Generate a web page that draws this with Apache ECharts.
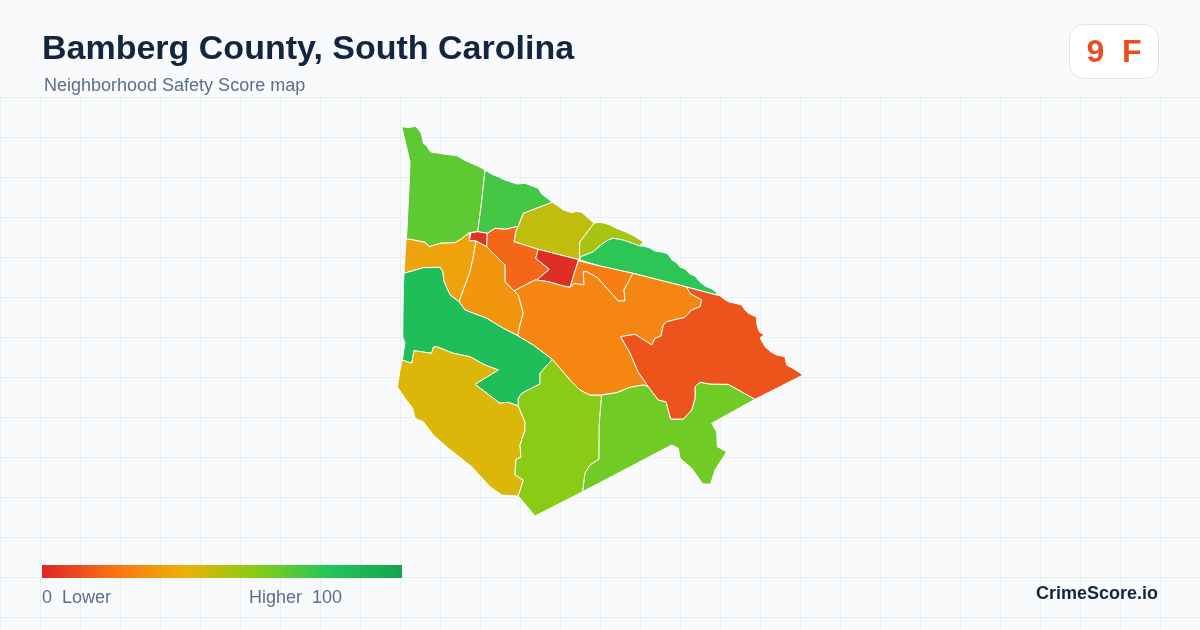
<!DOCTYPE html>
<html>
<head>
<meta charset="utf-8">
<style>html,body{margin:0;padding:0;background:#f8fafc}#chart{width:1200px;height:630px}</style>
<script src="https://cdn.jsdelivr.net/npm/echarts@6/dist/echarts.min.js"></script>
</head>
<body>
<div id="chart"></div>
<script>
const titleText = 'Bamberg County, South Carolina';
const subtitleText = 'Neighborhood Safety Score map';
const badgeText = '9  F';
const legendLow = '0  Lower';
const legendHigh = 'Higher  100';
const brandText = 'CrimeScore.io';
const scaleColors = ['#dc2626', '#f97316', '#eab308', '#84cc16', '#22c55e', '#16a34a'];

const tractNames = ['Northwest', 'North', 'Olive', 'OliveEast', 'Strip', 'SmallRed', 'RedOrange', 'Red', 'CenterNorth', 'AmberWest', 'MidOrange', 'WestGreen', 'Gold', 'Lime', 'BigOrange', 'SouthEastLime', 'SouthEast'];
const tractScores = [68, 73, 48, 53, 78, 3, 17, 2, 23, 35, 31, 84, 43, 59, 26, 64, 12];

const outlineNorthwest = [[401.7,126.7],[408,127.5],[412,127],[415,126],[417.5,128],[421,133],[422.5,138],[423.3,143.3],[427,146],[429,150],[431.7,152.3],[438,153],[445,154.3],[452,155],[456.7,155.7],[461,158],[466,161],[470,162.7],[478,166],[485,170],[481.7,201.7],[477.7,231.7],[469.3,232.7],[462,238.5],[455,242.7],[440,243.3],[429.3,246.7],[425,242.3],[410,239.3],[406,239.3],[406.7,235],[409.3,181.7],[410,161.7]];
const outlineNorth = [[485,170],[493.3,175],[499,177],[505,180],[511,182],[516.7,184],[525,183.3],[531,185.5],[538.3,188.3],[541.7,194],[547,198],[552.3,202.3],[523.3,213.3],[518.3,226.3],[505,229.3],[495,228.3],[487.3,233.3],[477.7,231.7],[481.7,201.7]];
const outlineOlive = [[552.3,202.3],[558,206],[563.3,210],[571.7,212.7],[576,211.5],[581.7,212.3],[587,217],[594,223.3],[580,241.7],[579.3,253.3],[580,260],[538.3,249.3],[514,241.7],[516,230],[518.3,226.3],[523.3,213.3]];
const outlineOliveEast = [[594,223.3],[598.3,222.3],[604,223],[610,225],[618,229],[625,231.7],[634,236],[643.3,241.7],[640,246],[623,240],[613.3,238.3],[608,240],[601,245],[593.3,251.7],[580,257],[579.3,253.3],[580,241.7]];
const outlineStrip = [[580,257],[593.3,251.7],[601,245],[608,240],[613.3,238.3],[623,240],[640,246],[643,246],[650,248],[655,251],[662,252],[668,254],[672,260],[677,263],[680,267],[685,269],[690,274],[695,276],[700,282],[705,286],[712,289],[716,292],[716.7,295],[686.7,287],[633,273.3],[600,266],[580,260]];
const outlineSmallRed = [[471,232.7],[477.7,231.7],[487.3,233.3],[486.7,246.7],[476,241],[469.3,240.7]];
const outlineRedOrange = [[487.3,233.3],[495,228.3],[505,229.3],[518.3,226.3],[516,230],[514,241.7],[538.3,249.3],[535.7,258.3],[549.3,269.3],[536.7,280],[535,280],[523.3,286],[514,291],[505,281.7],[505,265],[486.7,246.7]];
const outlineRed = [[538.3,249.3],[580,260],[578.3,260.7],[570,287.3],[563.3,286],[548.3,281.7],[536.7,280],[549.3,269.3],[535.7,258.3]];
const outlineCenterNorth = [[578.3,260.7],[600,266],[633,273.3],[624,290],[625,301],[618.3,301],[600,280.7],[598.3,278.3],[586.7,271.7],[583.3,271.7],[584,285],[574.3,283.3],[570,287.3]];
const outlineAmberWest = [[406,239.3],[410,239.3],[425,242.3],[429.3,246.7],[440,243.3],[455,242.7],[462,238.5],[469.3,232.7],[469.3,240.7],[476,241],[473.3,256.7],[470,271.7],[459,301.7],[450,295],[444,281.7],[442.7,271.7],[440,267.3],[423.3,267.7],[404,273.3]];
const outlineMidOrange = [[476,241],[486.7,246.7],[505,265],[505,281.7],[514,291],[518.3,295],[523.3,313.3],[520,325],[517.7,335.7],[503.3,328.3],[486.7,318.3],[465,310],[459,301.7],[470,271.7],[473.3,256.7]];
const outlineWestGreen = [[404,273.3],[423.3,267.7],[440,267.3],[442.7,271.7],[444,281.7],[450,295],[459,301.7],[465,310],[486.7,318.3],[503.3,328.3],[517.7,335.7],[533.3,345],[552.3,359.3],[540,373.3],[540,384],[521.7,393.3],[518.3,398.3],[518.3,406],[508.3,402.3],[500,403.3],[475,384.3],[498.3,370],[485,365],[470,356.7],[453.3,353.3],[436.7,346.7],[433.3,347.3],[431.7,353.3],[414,350.7],[411.7,363.3],[402.3,360],[405,343.3],[402.7,336.7],[403.3,286.7]];
const outlineGold = [[402.3,360],[411.7,363.3],[414,350.7],[431.7,353.3],[433.3,347.3],[436.7,346.7],[453.3,353.3],[470,356.7],[485,365],[498.3,370],[475,384.3],[500,403.3],[508.3,402.3],[518.3,406],[525,421.7],[525,430],[520,445],[521,457.3],[516,459.3],[515,475],[523.3,480],[518.3,496],[501.7,495],[490,486.7],[471.7,466.7],[448.3,448.3],[433.3,435],[423.3,421.7],[415,418.3],[412.7,408.3],[405,398.3],[397.3,386.7],[400,370]];
const outlineLime = [[552.3,359.3],[571.7,381.7],[580,390],[590,395],[601.7,395],[599.3,423.3],[599,459.3],[590,465],[585,473.3],[582.7,491.7],[535,516],[518.3,496],[523.3,480],[515,475],[516,459.3],[521,457.3],[520,445],[525,430],[525,421.7],[518.3,406],[518.3,398.3],[521.7,393.3],[540,384],[540,373.3]];
const outlineBigOrange = [[514,291],[523.3,286],[535,280],[536.7,280],[548.3,281.7],[563.3,286],[570,287.3],[574.3,283.3],[584,285],[583.3,271.7],[586.7,271.7],[598.3,278.3],[600,280.7],[618.3,301],[625,301],[624,290],[633,273.3],[686.7,287],[690,293.3],[701.7,300],[700,306.7],[691.7,310],[685,317.3],[666.7,321.7],[663.3,325],[661,336],[655,338.3],[651.7,345],[635,334.3],[620.7,336.7],[630,353],[638,371.7],[648.3,386.7],[643.3,385],[630,387.3],[616.7,392.7],[601.7,395],[590,395],[580,390],[571.7,381.7],[552.3,359.3],[533.3,345],[517.7,335.7],[520,325],[523.3,313.3],[518.3,295]];
const outlineSouthEastLime = [[601.7,395],[616.7,392.7],[630,387.3],[643.3,385],[648.3,386.7],[658.3,400],[666,401.7],[670.7,419],[683.3,419],[691.7,410],[695,398.3],[695,386.7],[700,382.3],[710,384],[728.3,384.3],[743.3,392.7],[755,399.3],[711.7,423.3],[716.7,431.7],[717.3,446.7],[726.7,451.7],[715,470],[710.7,484],[702.7,484],[691.7,468.3],[680,458.3],[678.3,448.3],[671.7,445],[582.7,491.7],[585,473.3],[590,465],[599,459.3],[599.3,423.3]];
const outlineSouthEast = [[686.7,287],[716.7,295],[720,295.7],[724,299],[728.3,301.7],[734,303],[741.7,305],[745,310],[748,313],[756.7,317.3],[757,325],[759.3,331.7],[764,335],[760,338],[763,343],[765,346.7],[771,352],[776.7,355],[785,356.7],[786.7,365],[794,369],[803,375],[755,399.3],[743.3,392.7],[728.3,384.3],[710,384],[700,382.3],[695,386.7],[695,398.3],[691.7,410],[683.3,419],[670.7,419],[666,401.7],[658.3,400],[648.3,386.7],[638,371.7],[630,353],[620.7,336.7],[635,334.3],[651.7,345],[655,338.3],[661,336],[663.3,325],[666.7,321.7],[685,317.3],[691.7,310],[700,306.7],[701.7,300],[690,293.3]];

const tractOutlines = [outlineNorthwest, outlineNorth, outlineOlive, outlineOliveEast, outlineStrip, outlineSmallRed, outlineRedOrange, outlineRed, outlineCenterNorth, outlineAmberWest, outlineMidOrange, outlineWestGreen, outlineGold, outlineLime, outlineBigOrange, outlineSouthEastLime, outlineSouthEast];

const geoJson = {
  type: 'FeatureCollection',
  features: tractNames.map((name, i) => ({
    type: 'Feature',
    properties: { name },
    geometry: { type: 'Polygon', coordinates: [tractOutlines[i].concat([tractOutlines[i][0]])] }
  }))
};
echarts.registerMap('bamberg', geoJson);

const allPoints = tractOutlines.flat();
const xs = allPoints.map(p => p[0]), ys = allPoints.map(p => p[1]);
const minX = Math.min(...xs), maxX = Math.max(...xs), minY = Math.min(...ys), maxY = Math.max(...ys);

const slate = '#5b6f8c', navy = '#12263f', badgeRed = '#e84e1f';
const chart = echarts.init(document.getElementById('chart'), null, { renderer: 'canvas' });
chart.setOption({
  animation: false,
  backgroundColor: '#f8fafc',
  grid: { left: 0, right: 0, top: 97, bottom: 0 },
  xAxis: { type: 'value', min: 0, max: 1200, interval: 40, axisLine: {show:false}, axisTick: {show:false}, axisLabel: {show:false},
    splitLine: { show: true, lineStyle: { color: '#e8eff4', width: 1 } } },
  yAxis: { type: 'value', inverse: true, min: 0, max: 533, interval: 40, axisLine: {show:false}, axisTick: {show:false}, axisLabel: {show:false},
    splitLine: { show: true, lineStyle: { color: '#e8eff4', width: 1 } } },
  visualMap: {
    type: 'continuous', min: 0, max: 100, seriesIndex: 0, show: false,
    inRange: { color: scaleColors }
  },
  series: [{
    type: 'map', map: 'bamberg', roam: false, silent: true, selectedMode: false,
    projection: { project: p => [p[0], p[1]], unproject: p => [p[0], p[1]] },
    layoutCenter: [(minX + maxX) / 2, (minY + maxY) / 2],
    layoutSize: Math.max(maxX - minX, maxY - minY),
    label: { show: false },
    itemStyle: { borderColor: '#ffffff', borderWidth: 1 },
    data: tractNames.map((name, i) => ({ name, value: tractScores[i] }))
  }],
  graphic: [
    { type: 'text', z: 20, x: 42, y: 50, style: { text: titleText, font: 'bold 34px "Liberation Sans"', fill: navy, verticalAlign: 'middle' } },
    { type: 'text', z: 20, x: 44, y: 86, style: { text: subtitleText, font: '18px "Liberation Sans"', fill: slate, verticalAlign: 'middle' } },
    { type: 'rect', z: 20, shape: { x: 1069.5, y: 24.5, width: 89, height: 54, r: 14 }, style: { fill: '#ffffff', stroke: '#dfe5ed', lineWidth: 1 } },
    { type: 'text', z: 21, x: 1114, y: 53.5, style: { text: badgeText, font: 'bold 32px "Liberation Sans"', fill: badgeRed, align: 'center', verticalAlign: 'middle' } },
    { type: 'rect', z: 20, shape: { x: 42, y: 565, width: 360, height: 13 }, style: {
      fill: new echarts.graphic.LinearGradient(0, 0, 1, 0, scaleColors.map((color, i) => ({ offset: i / (scaleColors.length - 1), color })))
    } },
    { type: 'text', z: 20, x: 42, y: 598.5, style: { text: legendLow, font: '18px "Liberation Sans"', fill: slate, align: 'left', verticalAlign: 'middle' } },
    { type: 'text', z: 20, x: 342, y: 598.5, style: { text: legendHigh, font: '18px "Liberation Sans"', fill: slate, align: 'right', verticalAlign: 'middle' } },
    { type: 'text', z: 20, x: 1158, y: 594, style: { text: brandText, font: 'bold 18px "Liberation Sans"', fill: navy, align: 'right', verticalAlign: 'middle' } }
  ]
});
</script>
</body>
</html>
